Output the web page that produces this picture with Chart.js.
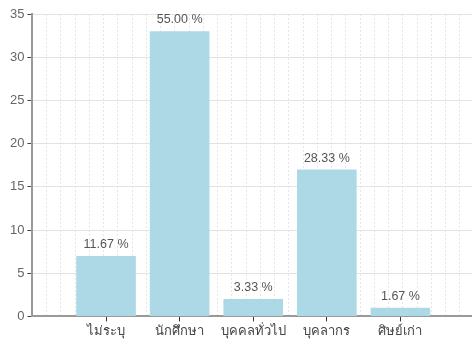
<!DOCTYPE html>
<html>
<head>
<meta charset="utf-8">
<script src="https://cdn.jsdelivr.net/npm/chart.js@4"></script>
<style>
  html, body { margin: 0; padding: 0; background: #fff; overflow: hidden; }
  #wrap { width: 476px; height: 342px; }
</style>
</head>
<body>
<div id="wrap"><canvas id="bar_chart"></canvas></div>
<script>
// ข้อมูลกราฟ
const categories = ['ไม่ระบุ', 'นักศึกษา', 'บุคคลทั่วไป', 'บุคลากร', 'ศิษย์เก่า'];
const counts = [7, 33, 2, 17, 1];
const yTicks = [0, 5, 10, 15, 20, 25, 30, 35];

const total = counts.reduce((a, b) => a + b, 0);
// เว้นช่องว่างหัว-ท้ายแกน x
const labels = [''].concat(categories, ['']);
const values = [null].concat(counts, [null]);

const FONT = "'Liberation Sans', Arial, sans-serif";

const percentLabels = {
    id: 'percentLabels',
    afterDatasetsDraw(chart) {
        const ctx = chart.ctx;
        const meta = chart.getDatasetMeta(0);
        ctx.save();
        ctx.font = '12.5px ' + FONT;
        ctx.fillStyle = '#555';
        ctx.textAlign = 'center';
        ctx.textBaseline = 'bottom';
        meta.data.forEach(function (bar, i) {
            const v = values[i];
            if (v === null) return;
            ctx.fillText((v / total * 100).toFixed(2) + ' %', bar.x, bar.y - 5);
        });
        ctx.restore();
    }
};

let ctx = document.getElementById('bar_chart').getContext('2d');
let myChart = new Chart(ctx, {
    type: 'bar',
    data: {
        labels: labels,
        datasets: [{
            data: values,
            backgroundColor: '#add8e6',
            borderWidth: 0,
            barPercentage: 0.81,
            categoryPercentage: 1
        }]
    },
    options: {
        responsive: true,
        maintainAspectRatio: false,
        animation: false,
        layout: { padding: { top: 14, right: 0, left: 7, bottom: 1 } },
        plugins: {
            legend: { display: false },
            tooltip: { enabled: false }
        },
        scales: {
            x: {
                type: 'category',
                offset: false,
                grid: {
                    offset: false,
                    drawOnChartArea: false,
                    tickLength: 5,
                    tickColor: (c) => (labels[c.index] ? '#333' : 'rgba(0,0,0,0)')
                },
                border: { color: '#999', width: 2 },
                ticks: {
                    autoSkip: false,
                    maxRotation: 0,
                    padding: 2,
                    color: '#444',
                    font: { family: FONT, size: 13 }
                }
            },
            x2: {
                type: 'linear',
                position: 'bottom',
                min: 0,
                max: (labels.length - 1) * 5,
                afterFit: (axis) => { axis.height = 0; },
                ticks: { display: false, stepSize: 1 },
                grid: { color: '#e6e6e6', drawTicks: false, lineWidth: 1 },
                border: { display: false, dash: [2, 2] }
            },
            y: {
                min: 0,
                max: 35,
                afterBuildTicks: (axis) => { axis.ticks = yTicks.map(v => ({ value: v })); },
                grid: { color: '#e3e3e3', tickColor: '#444', tickLength: 5 },
                border: { color: '#999', width: 2 },
                ticks: {
                    padding: 3,
                    color: '#666',
                    font: { family: FONT, size: 13 }
                }
            }
        }
    },
    plugins: [percentLabels]
});
</script>
</body>
</html>
